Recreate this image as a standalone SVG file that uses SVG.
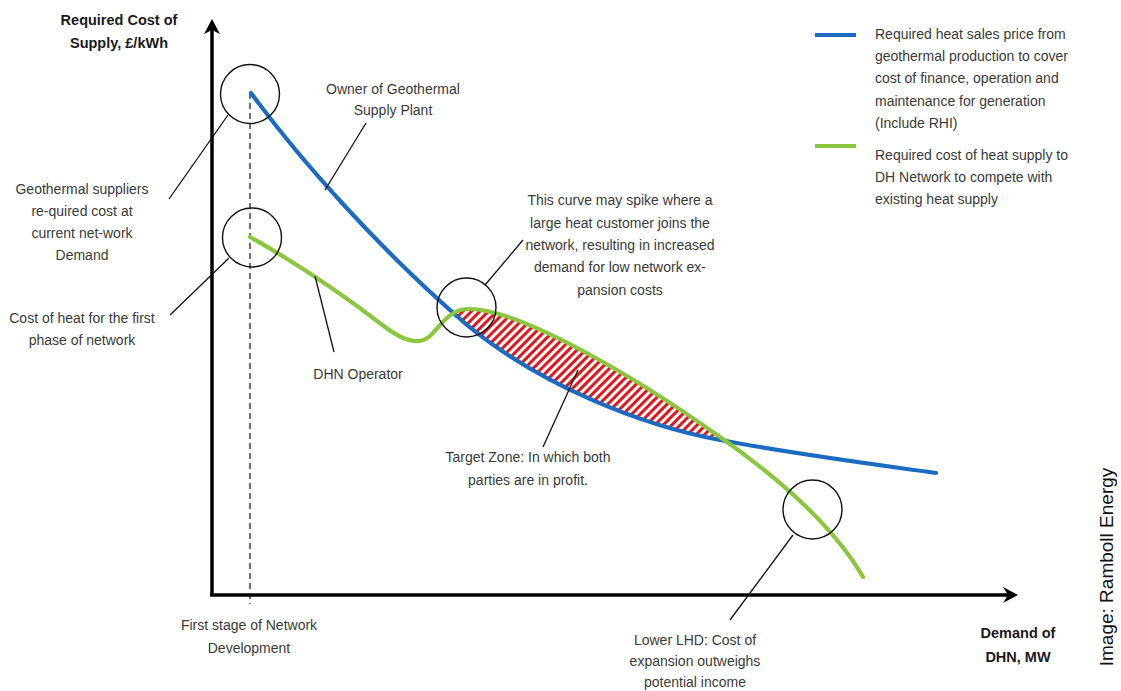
<svg xmlns="http://www.w3.org/2000/svg" width="1121" height="691" viewBox="0 0 1121 691">
  <style>
    .t { font-family: "Liberation Sans", Arial, sans-serif; font-size: 14px; fill: #3a3a3a; text-anchor: middle; }
    .tl { font-family: "Liberation Sans", Arial, sans-serif; font-size: 14px; fill: #3a3a3a; }
    .b { font-family: "Liberation Sans", Arial, sans-serif; font-size: 14.5px; font-weight: bold; fill: #1a1a1a; text-anchor: middle; }
    .axis { stroke: #000; stroke-width: 3.5; fill: none; }
    .lead { stroke: #111; stroke-width: 1.3; fill: none; }
    .ring { stroke: #111; stroke-width: 1.4; fill: none; }
    .blue { stroke: #1b6cc0; stroke-width: 4.2; fill: none; stroke-linecap: round; }
    .green { stroke: #8cc63f; stroke-width: 4.2; fill: none; stroke-linecap: round; }
  </style>
  <defs>
    <pattern id="hatch" width="6" height="6" patternUnits="userSpaceOnUse" patternTransform="rotate(45)">
      <rect width="6" height="6" fill="#ffffff"/>
      <rect width="3" height="6" fill="#e3161c"/>
    </pattern>
  </defs>
  <rect width="1121" height="691" fill="#ffffff"/>

  <g id="target-zone">
    <path d="M452,314 C458,310 462,309 468,309 C520,308 640,380 720,437 L720,440 C640,425 540,385 467,325 L452,313 Z" fill="url(#hatch)"/>
  </g>

  <g id="axes">
    <line x1="212" y1="595" x2="212" y2="26" class="axis"/>
    <polygon points="212,19 220,34 212,30 204,34" fill="#000"/>
    <line x1="210" y1="595" x2="1010" y2="595" class="axis"/>
    <polygon points="1018,595 1003,603 1008,595 1003,587" fill="#000"/>
    <line x1="250" y1="93" x2="250" y2="604" stroke="#111" stroke-width="1.2" stroke-dasharray="6,4"/>
  </g>

  <g id="curve-blue">
    <path class="blue" d="M251,93 C300,160 380,250 467,325 C540,385 640,425 720,440 C800,455 880,465 936,473"/>
  </g>
  <g id="curve-green">
    <path class="green" d="M250,237 C300,265 350,300 385,327 C405,342 420,345 430,336 C442,325 448,310 468,309 C520,308 640,380 720,437 C770,472 830,520 863,577"/>
  </g>

  <g id="rings">
    <circle id="ring-top" cx="250" cy="94" r="29.5" class="ring"/>
    <circle id="ring-first" cx="252" cy="237.5" r="29.5" class="ring"/>
    <circle id="ring-spike" cx="466.5" cy="307.5" r="29.5" class="ring"/>
    <circle id="ring-lower" cx="812.5" cy="509.5" r="29.5" class="ring"/>
  </g>

  <g id="connectors">
    <line x1="228" y1="115" x2="169" y2="199" class="lead"/>
    <line x1="229" y1="258" x2="170" y2="315" class="lead"/>
    <line x1="366" y1="123" x2="325" y2="190" class="lead"/>
    <line x1="315" y1="276" x2="334" y2="352" class="lead"/>
    <line x1="485" y1="285" x2="523" y2="240" class="lead"/>
    <line x1="578" y1="370" x2="543" y2="447" class="lead"/>
    <line x1="793" y1="535" x2="730" y2="620" class="lead"/>
  </g>

  <g id="y-title">
    <text class="b" x="119" y="25">Required Cost of</text>
    <text class="b" x="119" y="48">Supply, £/kWh</text>
  </g>
  <g id="x-title">
    <text class="b" x="1018" y="638">Demand of</text>
    <text class="b" x="1018" y="662">DHN, MW</text>
  </g>

  <g id="label-owner">
    <text class="t" x="393" y="94">Owner of Geothermal</text>
    <text class="t" x="393" y="115">Supply Plant</text>
  </g>
  <g id="label-suppliers">
    <text class="t" x="82" y="194">Geothermal suppliers</text>
    <text class="t" x="82" y="216">re-quired cost at</text>
    <text class="t" x="82" y="238">current net-work</text>
    <text class="t" x="82" y="260">Demand</text>
  </g>
  <g id="label-first-phase">
    <text class="t" x="82" y="323">Cost of heat for the first</text>
    <text class="t" x="82" y="345">phase of network</text>
  </g>
  <g id="label-dhn">
    <text class="t" x="358" y="379">DHN Operator</text>
  </g>
  <g id="label-spike">
    <text class="t" x="620" y="205">This curve may spike where a</text>
    <text class="t" x="620" y="228">large heat customer joins the</text>
    <text class="t" x="620" y="250">network, resulting in increased</text>
    <text class="t" x="620" y="272">demand for low network ex-</text>
    <text class="t" x="620" y="295">pansion costs</text>
  </g>
  <g id="label-target">
    <text class="t" x="528" y="462">Target Zone:  In which both</text>
    <text class="t" x="528" y="485">parties are in profit.</text>
  </g>
  <g id="label-first-stage">
    <text class="t" x="249" y="630">First stage of Network</text>
    <text class="t" x="249" y="653">Development</text>
  </g>
  <g id="label-lower">
    <text class="t" x="695" y="645">Lower LHD: Cost of</text>
    <text class="t" x="695" y="666">expansion outweighs</text>
    <text class="t" x="695" y="687">potential income</text>
  </g>

  <g id="legend">
    <line x1="815" y1="35" x2="856" y2="35" stroke="#1b6cc0" stroke-width="4.2"/>
    <text class="tl" x="875" y="39">Required heat sales price from</text>
    <text class="tl" x="875" y="61">geothermal production to cover</text>
    <text class="tl" x="875" y="83">cost of finance, operation and</text>
    <text class="tl" x="875" y="106">maintenance for generation</text>
    <text class="tl" x="875" y="128">(Include RHI)</text>
    <line x1="815" y1="146" x2="856" y2="146" stroke="#8cc63f" stroke-width="4.2"/>
    <text class="tl" x="875" y="160">Required cost of heat supply to</text>
    <text class="tl" x="875" y="182">DH Network to compete with</text>
    <text class="tl" x="875" y="204">existing heat supply</text>
  </g>

  <g id="credit">
    <text x="0" y="0" transform="translate(1113,567) rotate(-90)" font-family="'Liberation Sans', Arial, sans-serif" font-size="19" fill="#111" text-anchor="middle">Image: Ramboll Energy</text>
  </g>
</svg>
